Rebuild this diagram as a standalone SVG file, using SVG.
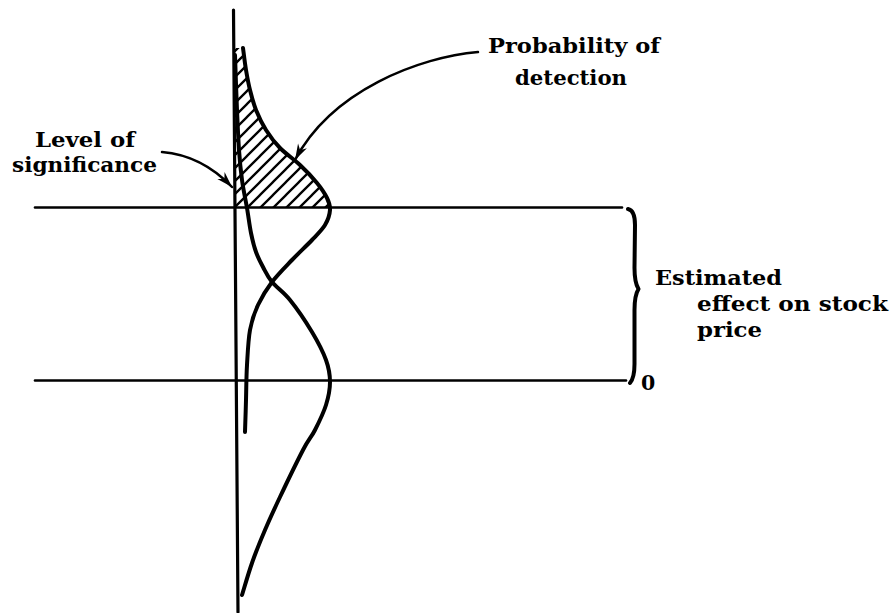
<svg xmlns="http://www.w3.org/2000/svg" width="892" height="613" viewBox="0 0 892 613">
<style>
.ln{fill:none;stroke:#000;stroke-linecap:round;stroke-linejoin:round}
.axis{stroke-width:3.2}
.hl{stroke-width:2.6}
.curve{stroke-width:4}
.arr{stroke-width:2.5}
.lbl{font-family:"DejaVu Serif","Liberation Serif",serif;font-weight:bold;font-size:20.5px;fill:#000}
</style>
<defs>
<pattern id="hatch" patternUnits="userSpaceOnUse" width="13" height="13">
<path d="M-2,2 L2,-2 M0,13 L13,0 M11,15 L15,11" stroke="#000" stroke-width="2.3"/>
</pattern>
<clipPath id="hclip">
<path d="M243,48 C243.5,51.7 244.8,63 246,70 C247.2,77 248.3,83.3 250,90 C251.7,96.7 253.3,103.3 256,110 C258.7,116.7 262,123.7 266,130 C270,136.3 274.3,142.2 280,148 C285.7,153.8 293.8,159.2 300,165 C306.2,170.8 312.5,177.5 317,183 C321.5,188.5 324.8,193.5 327,198 C329.2,202.5 330.3,205.5 330,208 L235,208 L234,48 Z"/>
</clipPath>
<marker id="ah" markerUnits="userSpaceOnUse" markerWidth="20" markerHeight="14" viewBox="-17 -7 20 14" refX="0" refY="0" orient="auto">
<path d="M0,0 L-16,-5 L-11,0 L-16,5 Z" fill="#000"/>
</marker>
</defs>

<g id="hatched-area">
<rect x="230" y="40" width="105" height="170" fill="url(#hatch)" clip-path="url(#hclip)"/>
</g>

<g id="axis">
<path class="ln axis" d="M233.5,10 L238,612"/>
</g>

<g id="level-lines">
<path class="ln hl" d="M35,207.5 L622,207.5"/>
<path class="ln hl" d="M35,380.5 L626,380.5"/>
</g>

<g id="null-distribution">
<path class="ln curve" d="M235,55 C235.3,64.2 236.3,94.2 237,110 C237.7,125.8 238.2,138.3 239,150 C239.8,161.7 240.7,170.3 242,180 C243.3,189.7 245.5,199.2 247,208 C248.5,216.8 249.5,225.7 251,233 C252.5,240.3 254,246.3 256,252 C258,257.7 260.3,262 263,267 C265.7,272 267.5,276.5 272,282 C276.5,287.5 283.3,291.7 290,300 C296.7,308.3 306,322 312,332 C318,342 323,351.7 326,360 C329,368.3 330,374.5 330,382 C330,389.5 328.5,397 326,405 C323.5,413 318.8,422.5 315,430 C311.2,437.5 308.8,438.8 303,450 C297.2,461.2 286.3,483.7 280,497 C273.7,510.3 269.7,519 265,530 C260.3,541 255.8,552.2 252,563 C248.2,573.8 243.7,589.7 242,595"/>
</g>

<g id="alt-distribution">
<path class="ln curve" d="M243,48 C243.5,51.7 244.8,63 246,70 C247.2,77 248.3,83.3 250,90 C251.7,96.7 253.3,103.3 256,110 C258.7,116.7 262,123.7 266,130 C270,136.3 274.3,142.2 280,148 C285.7,153.8 293.8,159.2 300,165 C306.2,170.8 312.5,177.5 317,183 C321.5,188.5 324.8,193.5 327,198 C329.2,202.5 330.3,205.5 330,210 C329.7,214.5 328,220 325,225 C322,230 317.5,234.2 312,240 C306.5,245.8 298.7,253 292,260 C285.3,267 277.7,274.5 272,282 C266.3,289.5 261.7,297 258,305 C254.3,313 251.8,320 250,330 C248.2,340 247.7,353.3 247,365 C246.3,376.7 246.3,388.8 246,400 C245.7,411.2 245.2,426.7 245,432"/>
</g>

<g id="brace">
<path class="ln" stroke-width="4" d="M628,209 C633,210 635,215 635,225 L634.5,268 C634.5,279 636,285 638.5,289 C636,293 634.5,299 634.5,310 L634.5,364 C634.5,373 633.5,379 630,383"/>
</g>

<g id="connectors">
<path class="ln arr" d="M162,152 C186,154 210,164 232,187" marker-end="url(#ah)"/>
<path class="ln arr" d="M478,52 C420,57 332,90 295,160" marker-end="url(#ah)"/>
</g>

<g id="labels">
<text class="lbl" x="35" y="147" textLength="100" lengthAdjust="spacingAndGlyphs">Level of</text>
<text class="lbl" x="12" y="172" textLength="145" lengthAdjust="spacingAndGlyphs">significance</text>
<text class="lbl" x="488" y="53" textLength="172" lengthAdjust="spacingAndGlyphs">Probability of</text>
<text class="lbl" x="515" y="85" textLength="112" lengthAdjust="spacingAndGlyphs">detection</text>
<text class="lbl" x="655" y="285" textLength="127" lengthAdjust="spacingAndGlyphs">Estimated</text>
<text class="lbl" x="697" y="311" textLength="191" lengthAdjust="spacingAndGlyphs">effect on stock</text>
<text class="lbl" x="697" y="337" textLength="65" lengthAdjust="spacingAndGlyphs">price</text>
<text class="lbl" x="641" y="390" font-size="18">0</text>
</g>
</svg>
